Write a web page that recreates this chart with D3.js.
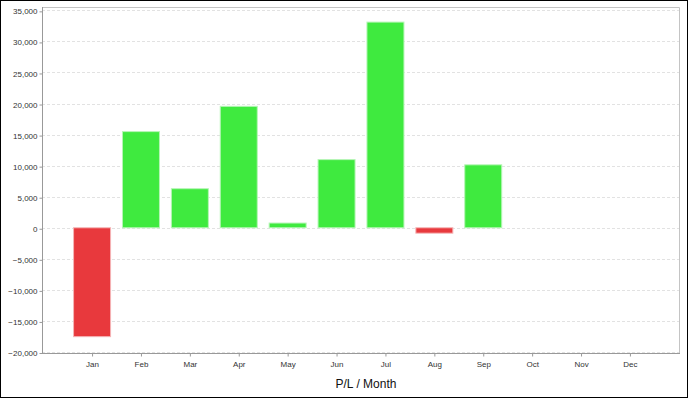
<!DOCTYPE html>
<html>
<head>
<meta charset="utf-8">
<script src="https://cdn.jsdelivr.net/npm/d3@7"></script>
<style>
  body { margin: 0; background: #fff; }
  svg { display: block; font-family: "Liberation Sans", Arial, sans-serif; }
</style>
</head>
<body>
<div id="chart"></div>
<script>
const width = 688;
const height = 398;

// data
const months = ["Jan", "Feb", "Mar", "Apr", "May", "Jun", "Jul", "Aug", "Sep", "Oct", "Nov", "Dec"];
const pl = [-17530, 15480, 6290, 19550, 760, 10970, 33110, -870, 10130, null, null, null];
const yTicks = [-20000, -15000, -10000, -5000, 0, 5000, 10000, 15000, 20000, 25000, 30000, 35000];

const margin = { top: 7, right: 8, bottom: 45, left: 42 };

const svg = d3.select("#chart").append("svg")
  .attr("width", width)
  .attr("height", height);

// outer frame
svg.append("rect")
  .attr("x", 0.5).attr("y", 0.5)
  .attr("width", width - 1).attr("height", height - 1)
  .attr("fill", "#fff")
  .attr("stroke", "#000");

const x = d3.scalePoint()
  .domain(months)
  .range([margin.left, width - margin.right])
  .padding(1.024);

const y = d3.scaleLinear()
  .domain([-20000, 35700])
  .range([height - margin.bottom, margin.top]);

// grid
svg.append("g")
  .selectAll("line")
  .data(yTicks)
  .enter()
  .append("line")
  .attr("x1", margin.left)
  .attr("x2", width - margin.right)
  .attr("y1", d => Math.round(y(d)) - 0.5)
  .attr("y2", d => Math.round(y(d)) - 0.5)
  .attr("stroke", "#e2e2e2")
  .attr("stroke-dasharray", "3,2");

// plot border (top / right)
svg.append("path")
  .attr("d", "M" + (margin.left + 0.5) + "," + (margin.top + 0.5) +
    "H" + (width - margin.right - 0.5) + "V" + (height - margin.bottom))
  .attr("fill", "none")
  .attr("stroke", "#c4c4c4");

// bars
const barW = 37;
svg.append("g")
  .selectAll("rect")
  .data(months.map((m, i) => ({ month: m, value: pl[i] })).filter(d => d.value !== null))
  .enter()
  .append("rect")
  .attr("x", d => x(d.month) - barW / 2)
  .attr("y", d => y(Math.max(0, d.value)) - 1)
  .attr("width", barW)
  .attr("height", d => Math.abs(y(d.value) - y(0)))
  .attr("fill", d => d.value >= 0 ? "#3fea3f" : "#e8393d")
  .attr("stroke", d => d.value >= 0 ? "#b6f5b6" : "#f5b5b6")
  .attr("stroke-width", 1);

// y axis
const yAxis = svg.append("g")
  .attr("transform", "translate(" + (margin.left + 0.5) + ",0)")
  .call(d3.axisLeft(y).tickValues(yTicks).tickSize(3).tickPadding(2)
    .tickFormat(d3.format(",")));
yAxis.select(".domain").attr("stroke", "#999")
  .attr("d", "M0," + margin.top + "V" + (height - margin.bottom));
yAxis.selectAll(".tick line").attr("stroke", "#999");
yAxis.selectAll("text")
  .attr("fill", "#333")
  .style("font-size", "8px");

// x axis
const xAxis = svg.append("g")
  .attr("transform", "translate(0," + (height - margin.bottom + 0.5) + ")")
  .call(d3.axisBottom(x).tickSize(3).tickPadding(5));
xAxis.select(".domain").attr("stroke", "#999")
  .attr("d", "M" + margin.left + ",0H" + (width - margin.right));
xAxis.selectAll(".tick line").attr("stroke", "#999");
xAxis.selectAll("text")
  .attr("fill", "#333")
  .style("font-size", "8px");

// axis title
svg.append("text")
  .attr("x", (margin.left + width - margin.right) / 2 + 5)
  .attr("y", 388)
  .attr("text-anchor", "middle")
  .attr("fill", "#111")
  .style("font-size", "12px")
  .text("P/L / Month");
</script>
</body>
</html>
